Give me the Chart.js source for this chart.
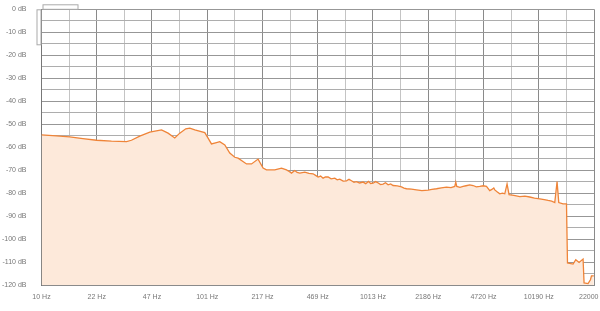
<!DOCTYPE html>
<html>
<head>
<meta charset="utf-8">
<script src="https://cdn.jsdelivr.net/npm/chart.js@4/dist/chart.umd.min.js"></script>
<style>
  html, body { margin: 0; padding: 0; overflow: hidden; background: #fff; }
  #wrap { position: absolute; left: 0; top: 0; width: 617px; height: 311px; }
</style>
</head>
<body>
<div id="wrap"><canvas id="spectrum"></canvas></div>
<script>
// Spectrum: frequency (Hz) and level (dB)
const freqs = [10, 12.3, 14.8, 17.8, 21.5, 26.5, 32.7, 35, 39.3, 45.2, 53.2, 58.3, 64, 68.6, 74.6, 78.9,
  84.6, 97.2, 101.8, 106.7, 114.4, 119.8, 128.5, 137.7, 147.7, 154.6, 173.9, 186.4, 204.3, 219,
  229.6, 257.8, 283, 303.4, 315, 325.3, 340.6, 352, 365.1, 391.4, 415, 439.4, 455, 471.3, 488, 505.1,
  522, 541.6, 565, 594.6, 615, 637.5, 668, 699.8, 725, 750, 777, 804.3, 840, 881.9, 915, 950, 980,
  1013.7, 1050, 1090, 1125, 1165, 1205, 1250, 1295, 1339, 1420, 1506, 1560, 1614, 1730, 1855, 2000,
  2181, 2300, 2452, 2620, 2818, 3000, 3163, 3207, 3252, 3400, 3551, 3700, 3897, 4081, 4270, 4480,
  4700, 4918, 5150, 5300, 5445, 5521, 5700, 5919, 6150, 6346, 6552, 6737, 7200, 7823, 8400, 8990,
  9600, 10335, 11000, 11601, 12200, 12735, 13149, 13465, 14296, 14993, 15202, 16433, 17061, 17865,
  18889, 19152, 20250, 20937, 21233, 21925];
const levels = [-54.7, -55.1, -55.5, -56.3, -57, -57.4, -57.6, -57, -55.2, -53.5, -52.5, -53.9, -56, -53.9, -52, -51.7,
  -52.5, -53.7, -56.1, -58.6, -58, -57.6, -59, -62.6, -64.4, -64.8, -67.3, -67.3, -65.2, -69.1,
  -69.9, -69.9, -69.1, -69.9, -70.6, -71.3, -70.2, -71, -71.3, -70.9, -71.4, -71.6, -72.3, -73, -72.6, -73.5,
  -73, -73, -73.8, -73.5, -74.2, -73.9, -74.8, -74.7, -74, -74.6, -75.3, -75, -75.6, -75.2, -75.9, -74.9, -75.8,
  -75.7, -75, -75.6, -76.3, -76.1, -75.5, -76.4, -76, -76.7, -76.9, -77.3, -77.8, -78.1, -78.3, -78.6, -78.9,
  -78.7, -78.4, -78.1, -77.7, -77.4, -77.6, -77.1, -75.2, -77.1, -77.5, -77.1, -76.8, -76.4, -76.7, -77.3, -77.1,
  -76.8, -77.1, -78.9, -78.4, -77.8, -78.6, -79.4, -80.3, -80, -80.3, -76, -80.7, -81, -81.5, -81.3, -81.7,
  -82.2, -82.5, -82.8, -83.2, -83.5, -84.1, -75, -84.1, -84.7, -84.7, -110.4, -110.9, -109, -110.2,
  -108.7, -119.1, -119.4, -117.7, -116, -116];

// x grid positions (every half step) and the labels on the main ones
const xTickValues = [10, 14.69, 21.59, 31.72, 46.6, 68.5, 100.6, 147.8, 217.2, 319.1, 468.9, 689,
  1012.3, 1487.4, 2185.5, 3211, 4718, 6933, 10186, 14967, 22000];
const xTickLabels = ['10 Hz', '22 Hz', '47 Hz', '101 Hz', '217 Hz', '469 Hz', '1013 Hz', '2186 Hz',
  '4720 Hz', '10190 Hz', '22000 Hz'];

// little handle boxes in the top left corner
const handles = {
  id: 'handles',
  afterDraw(chart) {
    const { ctx, chartArea: a } = chart;
    ctx.save();
    ctx.strokeStyle = '#aaa';
    ctx.lineWidth = 1;
    ctx.strokeRect(a.left + 1.5, a.top - 4.5, 35, 4.5);
    ctx.strokeRect(a.left - 4.5, a.top + 0.5, 4, 35);
    ctx.restore();
  }
};

const points = freqs.map((f, i) => ({ x: f, y: levels[i] }));

new Chart(document.getElementById('spectrum'), {
  type: 'line',
  data: {
    datasets: [{
      data: points,
      borderColor: '#ef8438',
      backgroundColor: '#fde9da',
      borderWidth: 1.3,
      pointRadius: 0,
      tension: 0,
      fill: 'start'
    }]
  },
  options: {
    responsive: true,
    maintainAspectRatio: false,
    animation: false,
    layout: { padding: { top: 0, left: 0, bottom: 4 } },
    plugins: { legend: { display: false }, tooltip: { enabled: false } },
    scales: {
      x: {
        type: 'logarithmic',
        min: 10,
        max: 22000,
        afterBuildTicks: scale => { scale.ticks = xTickValues.map(v => ({ value: v })); },
        afterFit: scale => { scale.height = 22; },
        ticks: {
          autoSkip: false,
          maxRotation: 0,
          padding: 8,
          color: '#777',
          font: { family: 'Liberation Sans, Arial', size: 7 },
          callback: (v, i) => (i % 2 === 0 ? xTickLabels[i / 2] : '')
        },
        grid: {
          drawTicks: false,
          color: c => (c.index % 2 === 0 ? '#8a8a8a' : '#c4c4c4')
        },
        border: { color: '#8a8a8a' }
      },
      y: {
        min: -120,
        max: 0,
        afterFit: scale => { scale.width = 41.5; scale.paddingTop = 9.3; },
        ticks: {
          stepSize: 5,
          autoSkip: false,
          padding: 15,
          color: '#777',
          font: { family: 'Liberation Sans, Arial', size: 7 },
          callback: v => (v % 10 === 0 ? v + ' dB' : '')
        },
        grid: {
          drawTicks: false,
          color: c => (c.tick && c.tick.value % 10 === 0 ? '#979797' : '#adadad')
        },
        border: { color: '#777' }
      }
    }
  },
  plugins: [handles]
});
</script>
</body>
</html>
